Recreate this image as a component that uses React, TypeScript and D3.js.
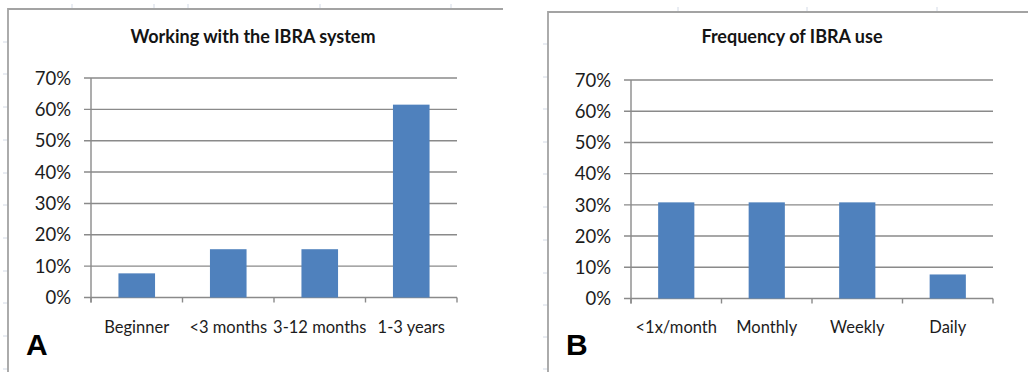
import React from "react";
import * as d3 from "d3";

// Panel A: experience with the IBRA system
const categoriesA = ["Beginner", "<3 months", "3-12 months", "1-3 years"];
const valuesA = [7.7, 15.4, 15.4, 61.5];

// Panel B: how often IBRA is used
const categoriesB = ["<1x/month", "Monthly", "Weekly", "Daily"];
const valuesB = [30.8, 30.8, 30.8, 7.7];

const yTicks = [0, 10, 20, 30, 40, 50, 60, 70];

const BAR = "#4F81BD";
const GRID = "#8a8a8a";
const FRAME = "#a3a3a3";
const SHEET = "#d3dae6";
const TEXT = "#1c1c1c";
const FONT = "Lato, 'Open Sans', sans-serif";

type PanelProps = {
  title: string;
  letter: string;
  categories: string[];
  values: number[];
  frameX: number;
  frameTop: number;
  frameRight: number;
  plotLeft: number;
  plotRight: number;
  plotTop: number;
  plotBottom: number;
  titleX: number;
  sheetCols: number[];
  sheetRows: number[];
};

function Panel(p: PanelProps) {
  const x = d3
    .scaleBand<string>()
    .domain(p.categories)
    .range([p.plotLeft, p.plotRight])
    .paddingInner(0.6)
    .paddingOuter(0.3);
  const y = d3.scaleLinear().domain([0, 70]).range([p.plotBottom, p.plotTop]);
  const step = x.step();
  const catTicks = d3.range(p.categories.length + 1).map((i) => p.plotLeft + i * step);

  return (
    <g>
      {/* spreadsheet cell ticks around the chart frame */}
      {p.sheetRows.map((r, i) => (
        <line key={"r" + i} x1={p.frameX - 5} x2={p.frameX} y1={r} y2={r} stroke={SHEET} strokeWidth={1} />
      ))}
      {p.sheetCols.map((c, i) => (
        <line key={"c" + i} x1={c} x2={c} y1={p.frameTop - 5} y2={p.frameTop} stroke={SHEET} strokeWidth={1} />
      ))}
      {/* chart frame */}
      <path
        d={`M${p.frameX},372 V${p.frameTop} H${p.frameRight}`}
        fill="none"
        stroke={FRAME}
        strokeWidth={1.8}
      />
      <text
        x={p.titleX}
        y={43}
        textAnchor="middle"
        fontFamily={FONT}
        fontWeight="bold"
        fontSize={18}
        fill="#141414"
      >
        {p.title}
      </text>
      {/* gridlines and y ticks */}
      {yTicks.map((t) => (
        <g key={t}>
          <line
            x1={p.plotLeft - 7}
            x2={p.plotRight}
            y1={y(t)}
            y2={y(t)}
            stroke={GRID}
            strokeWidth={1.4}
          />
          <text
            x={p.plotLeft - 20}
            y={y(t)}
            dy="0.36em"
            textAnchor="end"
            fontFamily={FONT}
            fontSize={18.5}
            fill={TEXT}
          >
            {t}%
          </text>
        </g>
      ))}
      {/* y axis line */}
      <line x1={p.plotLeft} x2={p.plotLeft} y1={y(70)} y2={y(0) + 5} stroke={GRID} strokeWidth={1.4} />
      {/* category ticks */}
      {catTicks.map((cx, i) => (
        <line key={i} x1={cx} x2={cx} y1={y(0)} y2={y(0) + 5} stroke={GRID} strokeWidth={1.4} />
      ))}
      {/* bars */}
      {p.categories.map((c, i) => (
        <rect
          key={c}
          x={x(c)!}
          y={y(p.values[i])}
          width={x.bandwidth()}
          height={y(0) - y(p.values[i])}
          fill={BAR}
        />
      ))}
      {/* category labels */}
      {p.categories.map((c) => (
        <text
          key={c}
          x={x(c)! + x.bandwidth() / 2}
          y={333}
          textAnchor="middle"
          fontFamily={FONT}
          fontSize={16.5}
          fill={TEXT}
        >
          {c}
        </text>
      ))}
      <text
        x={p.frameX + 18}
        y={355}
        fontFamily="'Liberation Sans', Arial, sans-serif"
        fontWeight="bold"
        fontSize={30}
        fill="#000"
      >
        {p.letter}
      </text>
    </g>
  );
}

export default function App() {
  return (
    <svg
      width={1028}
      height={372}
      style={{ position: "absolute", left: 0, top: 0, background: "#fff" }}
    >
      <rect width={1028} height={372} fill="#fff" />
      <Panel
        title="Working with the  IBRA system"
        letter="A"
        categories={categoriesA}
        values={valuesA}
        frameX={8}
        frameTop={9}
        frameRight={503}
        plotLeft={91}
        plotRight={457}
        plotTop={78}
        plotBottom={297.5}
        titleX={253}
        sheetCols={[72, 154, 188, 320, 451]}
        sheetRows={[42, 74, 107, 140, 173, 205, 238, 271, 303, 336, 369]}
      />
      <Panel
        title="Frequency of IBRA use"
        letter="B"
        categories={categoriesB}
        values={valuesB}
        frameX={548}
        frameTop={12}
        frameRight={1028}
        plotLeft={631}
        plotRight={993}
        plotTop={80}
        plotBottom={298.5}
        titleX={792}
        sheetCols={[678, 807, 937]}
        sheetRows={[44, 77, 109, 142, 174, 207, 240, 273, 305, 337, 369]}
      />
    </svg>
  );
}
